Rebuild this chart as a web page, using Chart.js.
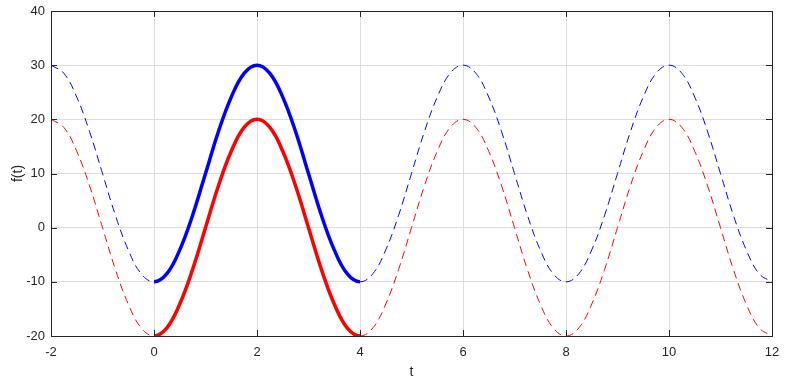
<!DOCTYPE html>
<html>
<head>
<meta charset="utf-8">
<script src="https://cdn.jsdelivr.net/npm/chart.js@4/dist/chart.umd.min.js"></script>
<style>
  html, body { margin: 0; padding: 0; background: #fff; }
  #wrap { width: 786px; height: 381px; }
</style>
</head>
<body>
<div id="wrap"><canvas id="fChart" width="786" height="381"></canvas></div>
<script>
// sample times (every 0.25)
const tValues = [
  -2, -1.75, -1.5, -1.25, -1, -0.75, -0.5, -0.25,
  0, 0.25, 0.5, 0.75, 1, 1.25, 1.5, 1.75,
  2, 2.25, 2.5, 2.75, 3, 3.25, 3.5, 3.75,
  4, 4.25, 4.5, 4.75, 5, 5.25, 5.5, 5.75,
  6, 6.25, 6.5, 6.75, 7, 7.25, 7.5, 7.75,
  8, 8.25, 8.5, 8.75, 9, 9.25, 9.5, 9.75,
  10, 10.25, 10.5, 10.75, 11, 11.25, 11.5, 11.75,
  12
];
const redValues = [
  20, 18.5, 14.1, 7.7, 0, -7.7, -14.1, -18.5,
  -20, -18.5, -14.1, -7.7, 0, 7.7, 14.1, 18.5,
  20, 18.5, 14.1, 7.7, 0, -7.7, -14.1, -18.5,
  -20, -18.5, -14.1, -7.7, 0, 7.7, 14.1, 18.5,
  20, 18.5, 14.1, 7.7, 0, -7.7, -14.1, -18.5,
  -20, -18.5, -14.1, -7.7, 0, 7.7, 14.1, 18.5,
  20, 18.5, 14.1, 7.7, 0, -7.7, -14.1, -18.5,
  -20
];
const blueValues = [
  30, 28.5, 24.1, 17.7, 10, 2.3, -4.1, -8.5,
  -10, -8.5, -4.1, 2.3, 10, 17.7, 24.1, 28.5,
  30, 28.5, 24.1, 17.7, 10, 2.3, -4.1, -8.5,
  -10, -8.5, -4.1, 2.3, 10, 17.7, 24.1, 28.5,
  30, 28.5, 24.1, 17.7, 10, 2.3, -4.1, -8.5,
  -10, -8.5, -4.1, 2.3, 10, 17.7, 24.1, 28.5,
  30, 28.5, 24.1, 17.7, 10, 2.3, -4.1, -8.5,
  -10
];
// the thick part covers one period
const solidFrom = 0;
const solidTo = 4;

const xTicks = [-2, 0, 2, 4, 6, 8, 10, 12];
const yTicks = [-20, -10, 0, 10, 20, 30, 40];

const axisColor = '#262626';
const fontFamily = 'Helvetica, Arial, "Liberation Sans", sans-serif';

const toPoints = vals => tValues.map((t, i) => ({ x: t, y: vals[i] }));
const inSolid = ctx => ctx.p0.parsed.x >= solidFrom && ctx.p1.parsed.x <= solidTo;

// box + inward tick marks on all four sides, like the original
const boxPlugin = {
  id: 'boxPlugin',
  afterDraw(chart) {
    const { ctx, chartArea: a, scales } = chart;
    ctx.save();
    ctx.strokeStyle = axisColor;
    ctx.lineWidth = 1;
    ctx.beginPath();
    xTicks.forEach(v => {
      const px = Math.round(scales.x.getPixelForValue(v)) + 0.5;
      ctx.moveTo(px, a.bottom); ctx.lineTo(px, a.bottom - 6);
      ctx.moveTo(px, a.top); ctx.lineTo(px, a.top + 6);
    });
    yTicks.forEach(v => {
      const py = Math.round(scales.y.getPixelForValue(v)) + 0.5;
      ctx.moveTo(a.left, py); ctx.lineTo(a.left + 6, py);
      ctx.moveTo(a.right, py); ctx.lineTo(a.right - 6, py);
    });
    ctx.stroke();
    ctx.strokeRect(Math.round(a.left) + 0.5, Math.round(a.top) + 0.5,
      Math.round(a.right - a.left), Math.round(a.bottom - a.top));
    ctx.restore();
  }
};

const curve = (vals, color, order) => ({
  data: toPoints(vals),
  borderColor: color,
  borderWidth: 1,
  borderDash: [8, 5],
  pointRadius: 0,
  tension: 0.4,
  order,
  segment: {
    borderWidth: ctx => inSolid(ctx) ? 3.5 : 1,
    borderDash: ctx => inSolid(ctx) ? [] : [8, 5]
  }
});

new Chart(document.getElementById('fChart'), {
  type: 'line',
  data: {
    datasets: [
      { label: 'red', ...curve(redValues, '#ff0000', 2) },
      { label: 'blue', ...curve(blueValues, '#0000ff', 1) }
    ]
  },
  options: {
    responsive: false,
    animation: false,
    events: [],
    layout: { padding: { top: 11, right: 14, left: 0, bottom: 0 } },
    plugins: {
      legend: { display: false },
      tooltip: { enabled: false }
    },
    scales: {
      x: {
        type: 'linear',
        min: -2,
        max: 12,
        afterBuildTicks: s => { s.ticks = xTicks.map(v => ({ value: v })); },
        afterFit: s => { s.height = 45; s.paddingLeft = 0; s.paddingRight = 0; },
        grid: { color: '#dcdcdc', drawTicks: false },
        border: { display: false },
        ticks: { color: axisColor, padding: 9, font: { family: fontFamily, size: 13 } },
        title: {
          display: true, text: 't', color: axisColor,
          padding: { top: 5, bottom: 0 },
          font: { family: fontFamily, size: 14 }
        }
      },
      y: {
        min: -20,
        max: 40,
        afterBuildTicks: s => { s.ticks = yTicks.map(v => ({ value: v })); },
        afterFit: s => { s.width = 51; s.paddingTop = 0; s.paddingBottom = 0; },
        grid: { color: '#dcdcdc', drawTicks: false },
        border: { display: false },
        ticks: { color: axisColor, padding: 6, font: { family: fontFamily, size: 13 } },
        title: {
          display: true, text: 'f(t)', color: axisColor,
          padding: { top: 10, bottom: 0 },
          font: { family: fontFamily, size: 14 }
        }
      }
    }
  },
  plugins: [boxPlugin]
});
</script>
</body>
</html>
